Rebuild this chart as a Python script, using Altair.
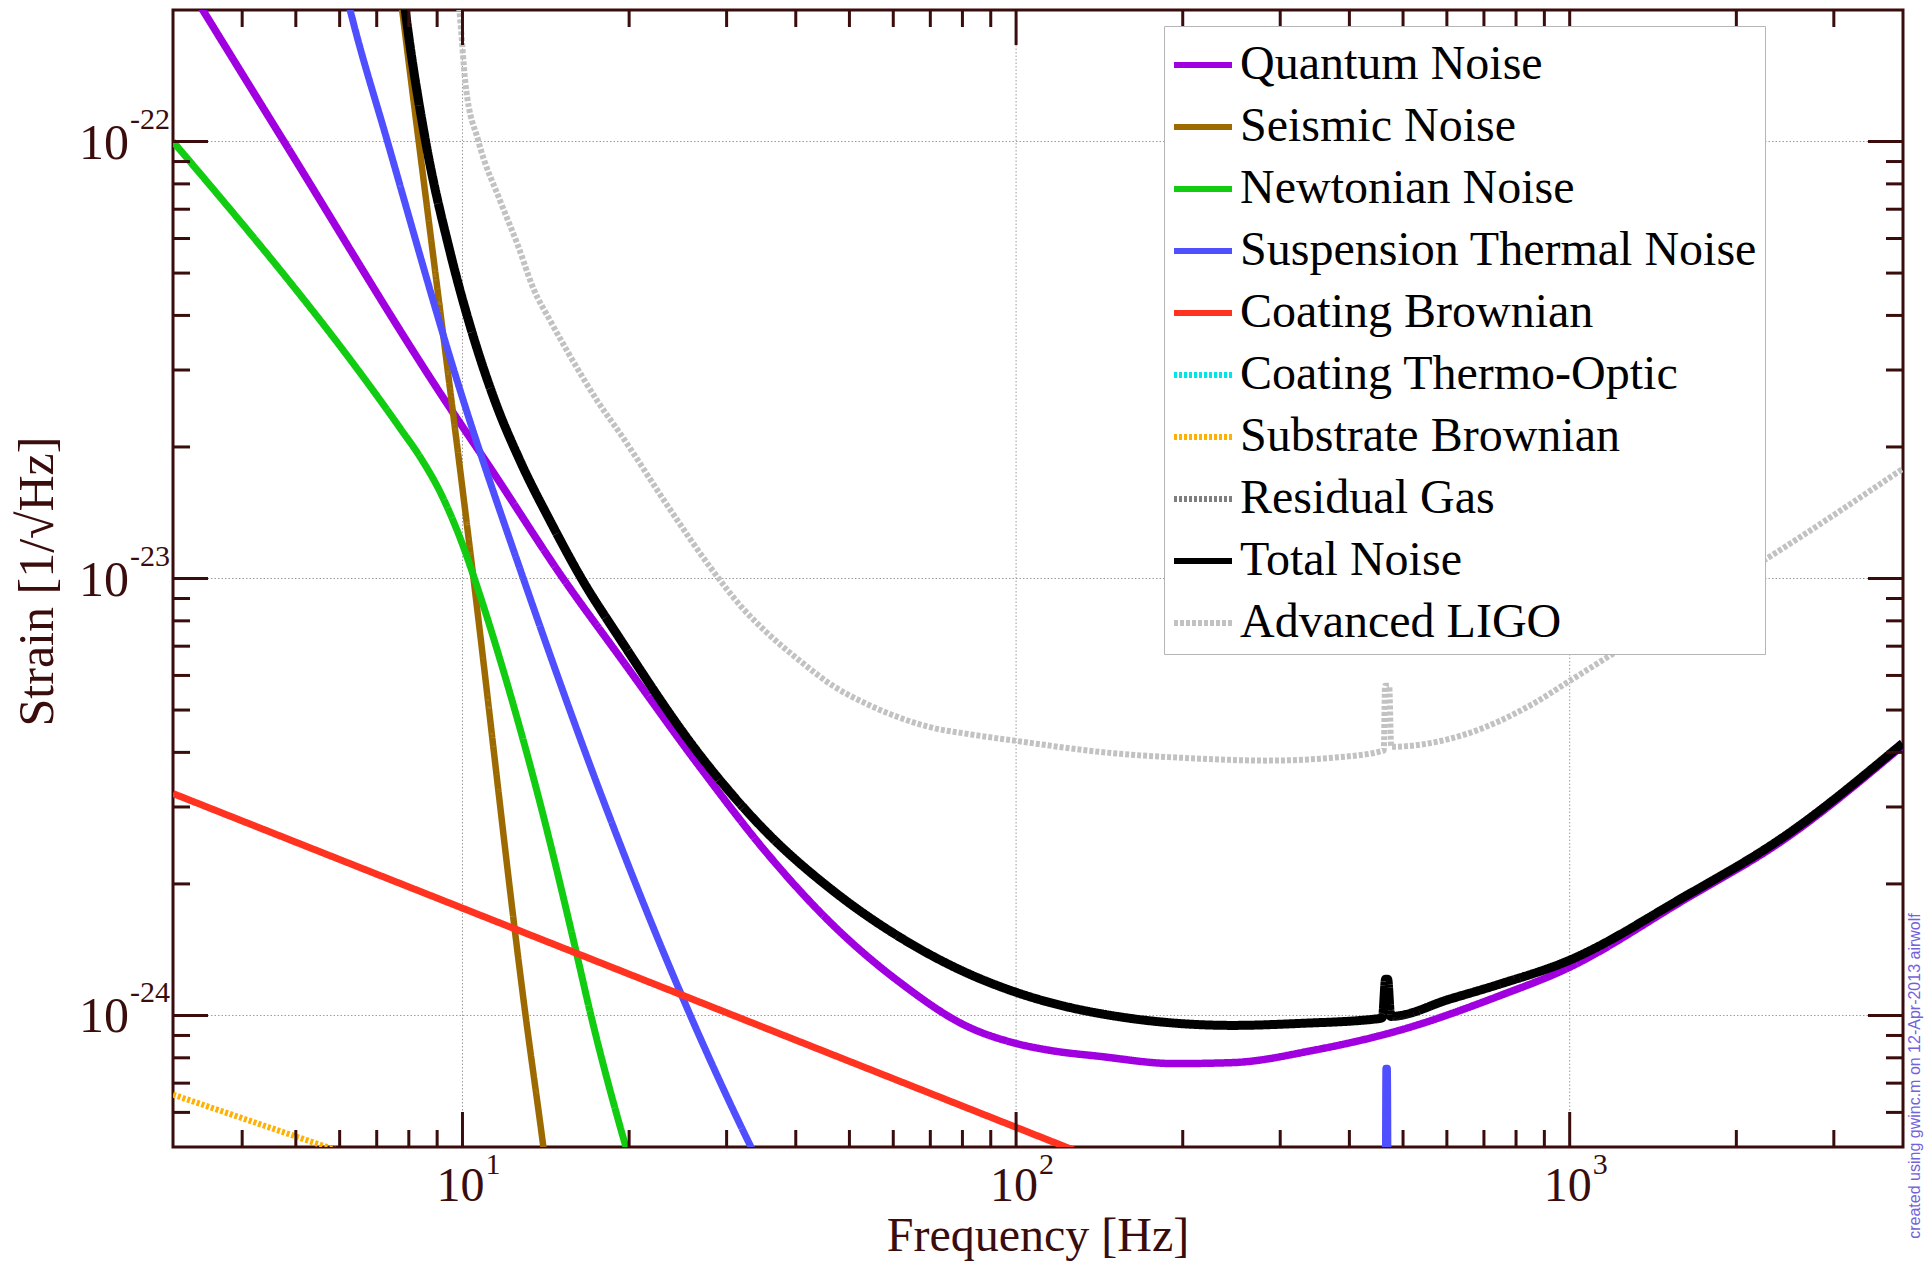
import altair as alt
import pandas as pd

# ---------------- data ----------------
series_names = [
    "Quantum Noise", "Seismic Noise", "Newtonian Noise", "Suspension Thermal Noise",
    "Coating Brownian", "Coating Thermo-Optic", "Substrate Brownian", "Residual Gas",
    "Total Noise", "Advanced LIGO",
]
series_colors = ["#a000e0", "#9c6a00", "#11cc11", "#4f4fff", "#ff3320",
                 "#00e6e6", "#ffb000", "#7f7f7f", "#000000", "#c2c2c2"]
series_dashes = [[1, 0], [1, 0], [1, 0], [1, 0], [1, 0],
                 [3, 2], [3, 2], [3, 2], [1, 0], [4, 2]]

quantum_f = [3.0, 4.76, 9.31, 11.23, 15.2, 19.3, 26.9, 35.5, 46.7, 61.7, 81.6, 100, 115.2,
             141.8, 193, 246, 344, 493, 748, 988, 1600, 2421, 3990]
quantum_h = [2.58e-22, 1.0e-22, 2.55e-23, 1.79e-23, 1.0e-23, 6.58e-24, 3.69e-24, 2.35e-24,
             1.61e-24, 1.19e-24, 9.44e-25, 8.63e-25, 8.32e-25, 8.06e-25, 7.76e-25, 7.8e-25,
             8.32e-25, 9.25e-25, 1.11e-24, 1.28e-24, 1.83e-24, 2.51e-24, 4.14e-24]

seismic_f = [7.57, 7.79, 10.47, 13.0, 14.0, 14.4]
seismic_h = [2.65e-22, 1.98e-22, 1.0e-23, 1.0e-24, 5.0e-25, 3.78e-25]

newton_f = [3.0, 7.73, 8.40, 9.13, 9.92, 10.78, 11.71, 13.83, 16.13, 17.0, 19.3, 21.4]
newton_h = [1.0e-22, 2.20e-23, 1.89e-23, 1.57e-23, 1.23e-23, 9.07e-24, 6.48e-24, 3.04e-24,
            1.36e-24, 1.02e-24, 5.52e-25, 3.58e-25]

susp_f = [6.03, 6.28, 7.32, 10.04, 12.88, 17.97, 25.8, 33.2, 35.97, 464, 465.5, 468.5, 470]
susp_h = [2.45e-22, 1.98e-22, 1.0e-22, 2.55e-23, 1.0e-23, 3.10e-24, 1.0e-24, 5.0e-25,
          4.08e-25, 3.0e-25, 7.57e-25, 7.57e-25, 3.0e-25]

coating_f = [3.0, 214.8]
coating_h = [3.22e-24, 3.78e-25]

substrate_f = [3.0, 7.73]
substrate_h = [6.59e-25, 4.38e-25]

total_f = [7.73, 7.89, 8.58, 9.51, 10.34, 11.47, 12.73, 14.42, 16.33, 19.3, 26.9, 35.5, 46.7,
           61.7, 81.6, 100, 141.8, 246.4, 325.5, 454, 459, 465, 469, 475, 607, 748, 988,
           1600, 2421, 3990]
total_h = [2.45e-22, 1.98e-22, 1.0e-22, 5.55e-23, 3.76e-23, 2.53e-23, 1.85e-23, 1.35e-23,
           1.01e-23, 7.24e-24, 3.93e-24, 2.62e-24, 1.93e-24, 1.51e-24, 1.25e-24, 1.13e-24,
           1.01e-24, 9.49e-25, 9.59e-25, 9.84e-25, 9.9e-25, 1.21e-24, 1.21e-24, 9.95e-25,
           1.09e-24, 1.18e-24, 1.33e-24, 1.86e-24, 2.55e-24, 4.19e-24]

aligo_f = [9.71, 9.88, 10.13, 10.69, 11.71, 12.57, 13.43, 14.42, 15.47, 16.53, 17.52, 19.3,
           23.7, 28.04, 32.15, 35.5, 40.7, 46.7, 53.8, 61.7, 70.8, 81.6, 100, 141.8, 214.8,
           283.8, 373.4, 461.5, 464, 472, 476, 651.6, 857, 1000, 1393, 2421, 3990]
aligo_h = [2.45e-22, 1.98e-22, 1.35e-22, 1.0e-22, 7.29e-23, 5.82e-23, 4.61e-23, 3.88e-23,
           3.31e-23, 2.87e-23, 2.55e-23, 2.14e-23, 1.44e-23, 1.06e-23, 8.52e-24, 7.51e-24,
           6.48e-24, 5.68e-24, 5.16e-24, 4.80e-24, 4.55e-24, 4.41e-24, 4.25e-24, 4.01e-24,
           3.87e-24, 3.83e-24, 3.89e-24, 4.04e-24, 5.68e-24, 5.68e-24, 4.12e-24, 4.41e-24,
           5.16e-24, 5.83e-24, 7.59e-24, 1.17e-23, 1.78e-23]

# ticks and tick labels
x_major = [10, 100, 1000]
x_minor = [4, 5, 6, 7, 8, 9, 20, 30, 40, 50, 60, 70, 80, 90,
           200, 300, 400, 500, 600, 700, 800, 900, 2000, 3000]
y_major = [1e-24, 1e-23, 1e-22]
y_minor = [6e-25, 7e-25, 8e-25, 9e-25,
           2e-24, 3e-24, 4e-24, 5e-24, 6e-24, 7e-24, 8e-24, 9e-24,
           2e-23, 3e-23, 4e-23, 5e-23, 6e-23, 7e-23, 8e-23, 9e-23]
x_label_base = ["10", "10", "10"]
x_label_exp = ["1", "2", "3"]
y_label_base = ["10", "10", "10"]
y_label_exp = ["-24", "-23", "-22"]

x_title = "Frequency [Hz]"
y_title = "Strain [1/\u221aHz]"
credit = "created using gwinc.m on 12-Apr-2013 airwolf"

# ---------------- styling ----------------
W, H = 1730, 1137
serif = "Liberation Serif"
ink = "#3a0c0c"
MAJ, MIN = 35, 17

x_scale = alt.Scale(type="log", domain=[3, 4000], nice=False)
y_scale = alt.Scale(type="log", domain=[5e-25, 2e-22], nice=False)
color_scale = alt.Scale(domain=series_names, range=series_colors)
dash_scale = alt.Scale(domain=series_names, range=series_dashes)

legend = alt.Legend(
    title=None, orient="none", legendX=991, legendY=16,
    symbolType="stroke", symbolSize=3364, symbolStrokeWidth=6,
    labelFont=serif, labelFontSize=48, labelColor="black", labelLimit=0,
    labelOffset=5, rowPadding=6, padding=7,
    fillColor="white", strokeColor="#b5b5b5",
)

X = lambda: alt.X("f:Q", scale=x_scale, axis=None)
Y = lambda: alt.Y("h:Q", scale=y_scale, axis=None)


def curve(name, f, h, width):
    df = pd.DataFrame({"f": f, "h": h, "series": name})
    return alt.Chart(df).mark_line(clip=True, strokeWidth=width, strokeJoin="round",
                                   interpolate="monotone").encode(
        x=X(), y=Y(),
        color=alt.Color("series:N", scale=color_scale, legend=legend),
        strokeDash=alt.StrokeDash("series:N", scale=dash_scale, legend=legend),
    )


grid_x = alt.Chart(pd.DataFrame({"f": x_major})).mark_rule(
    color="#9a9a9a", strokeWidth=1, strokeDash=[1.5, 2]).encode(x=X())
grid_y = alt.Chart(pd.DataFrame({"h": y_major})).mark_rule(
    color="#9a9a9a", strokeWidth=1, strokeDash=[1.5, 2]).encode(y=Y())


def xticks(vals, length):
    df = pd.DataFrame({"f": vals})
    b = alt.Chart(df).mark_rule(color=ink, strokeWidth=3).encode(
        x=X(), y=alt.value(H), y2=alt.value(H - length))
    t = alt.Chart(df).mark_rule(color=ink, strokeWidth=3).encode(
        x=X(), y=alt.value(0), y2=alt.value(length))
    return [b, t]


def yticks(vals, length):
    df = pd.DataFrame({"h": vals})
    l = alt.Chart(df).mark_rule(color=ink, strokeWidth=3).encode(
        y=Y(), x=alt.value(0), x2=alt.value(length))
    r = alt.Chart(df).mark_rule(color=ink, strokeWidth=3).encode(
        y=Y(), x=alt.value(W), x2=alt.value(W - length))
    return [l, r]


xl = pd.DataFrame({"f": x_major, "base": x_label_base, "exp": x_label_exp})
yl = pd.DataFrame({"h": y_major, "base": y_label_base, "exp": y_label_exp})

x_base = alt.Chart(xl).mark_text(font=serif, fontSize=48, color=ink, align="right",
                                 baseline="alphabetic", dx=22).encode(
    x=X(), y=alt.value(H + 54), text="base:N")
x_exp = alt.Chart(xl).mark_text(font=serif, fontSize=30, color=ink, align="left",
                                baseline="alphabetic", dx=23).encode(
    x=X(), y=alt.value(H + 27), text="exp:N")
y_base = alt.Chart(yl).mark_text(font=serif, fontSize=50, color=ink, align="right",
                                 baseline="alphabetic", dy=17).encode(
    y=Y(), x=alt.value(-44), text="base:N")
y_exp = alt.Chart(yl).mark_text(font=serif, fontSize=30, color=ink, align="left",
                                baseline="alphabetic", dy=-13).encode(
    y=Y(), x=alt.value(-43), text="exp:N")

xt = alt.Chart(pd.DataFrame({"t": [x_title]})).mark_text(
    font=serif, fontSize=48, color=ink, align="center", baseline="alphabetic").encode(
    x=alt.value(W / 2), y=alt.value(H + 104), text="t:N")
yt = alt.Chart(pd.DataFrame({"t": [y_title]})).mark_text(
    font=serif, fontSize=50, color=ink, align="center", baseline="middle", angle=270).encode(
    x=alt.value(-135), y=alt.value(H / 2 + 3), text="t:N")
cr = alt.Chart(pd.DataFrame({"t": [credit]})).mark_text(
    font="Liberation Sans", fontSize=16, color="#7262dc", align="center",
    baseline="middle", angle=270).encode(
    x=alt.value(W + 12), y=alt.value(1066), text="t:N")

layers = [grid_x, grid_y,
          curve("Quantum Noise", quantum_f, quantum_h, 7.5),
          curve("Seismic Noise", seismic_f, seismic_h, 6.5),
          curve("Newtonian Noise", newton_f, newton_h, 7),
          curve("Suspension Thermal Noise", susp_f, susp_h, 7),
          curve("Coating Brownian", coating_f, coating_h, 7),
          curve("Substrate Brownian", substrate_f, substrate_h, 6),
          curve("Total Noise", total_f, total_h, 9),
          curve("Advanced LIGO", aligo_f, aligo_h, 6)]
layers += xticks(x_major, MAJ) + xticks(x_minor, MIN) + yticks(y_major, MAJ) + yticks(y_minor, MIN)
layers += [x_base, x_exp, y_base, y_exp, xt, yt, cr]

chart = alt.layer(*layers).properties(
    width=W, height=H,
    padding={"left": 165, "top": 2, "right": 21, "bottom": 114},
    autosize=alt.AutoSizeParams(type="none"),
    background="white",
).configure_view(stroke=ink, strokeWidth=3)

chart.save("out.html", embed_options={"renderer": "svg", "actions": False})
